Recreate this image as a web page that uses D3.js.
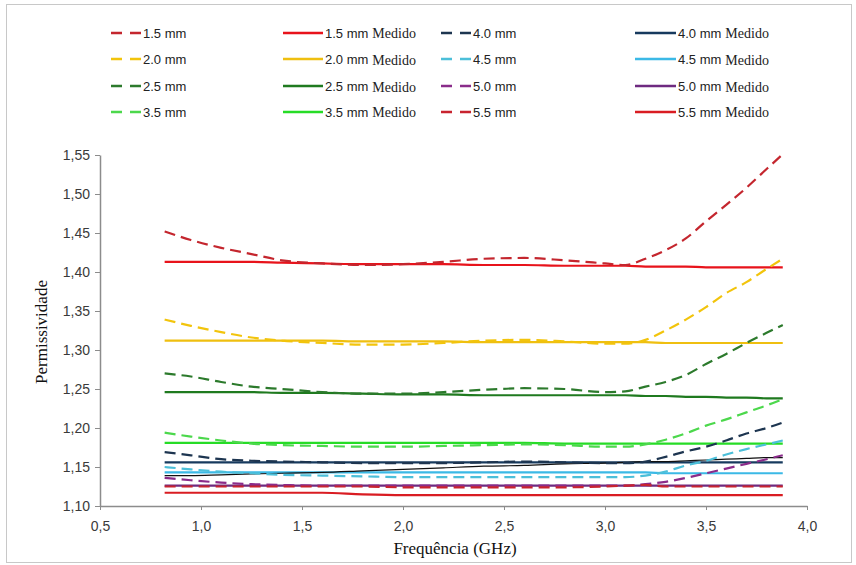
<!DOCTYPE html>
<html>
<head>
<meta charset="utf-8">
<script src="https://cdn.jsdelivr.net/npm/d3@7"></script>
<style>
  body { margin: 0; background: #fff; }
  svg { display: block; }
  .serif { font-family: "Liberation Serif", "Times New Roman", Times, serif; }
  .sans { font-family: "Liberation Sans", Arial, sans-serif; }
</style>
</head>
<body>
<svg id="chart" width="856" height="565"></svg>
<script>
// frequency grid (GHz)
const freq = [0.82, 0.95, 1.1, 1.25, 1.4, 1.6, 1.8, 2.0, 2.2, 2.4, 2.6, 2.8, 3.0, 3.1, 3.2, 3.3, 3.4, 3.5, 3.6, 3.7, 3.8, 3.88];

const sim15 = [1.452, 1.441, 1.431, 1.423, 1.415, 1.411, 1.409, 1.410, 1.413, 1.417, 1.418, 1.415, 1.411, 1.409, 1.417, 1.428, 1.443, 1.465, 1.486, 1.508, 1.532, 1.551];
const med15 = [1.413, 1.413, 1.413, 1.413, 1.412, 1.411, 1.410, 1.410, 1.410, 1.409, 1.409, 1.408, 1.408, 1.408, 1.407, 1.407, 1.407, 1.406, 1.406, 1.406, 1.406, 1.406];
const sim20 = [1.339, 1.331, 1.323, 1.316, 1.312, 1.309, 1.307, 1.307, 1.309, 1.312, 1.313, 1.311, 1.308, 1.308, 1.313, 1.325, 1.339, 1.355, 1.373, 1.387, 1.404, 1.417];
const med20 = [1.312, 1.312, 1.312, 1.312, 1.312, 1.312, 1.311, 1.311, 1.311, 1.310, 1.310, 1.310, 1.310, 1.310, 1.310, 1.309, 1.309, 1.309, 1.309, 1.309, 1.309, 1.309];
const sim25 = [1.270, 1.266, 1.259, 1.253, 1.250, 1.246, 1.244, 1.244, 1.246, 1.249, 1.251, 1.250, 1.246, 1.247, 1.253, 1.259, 1.268, 1.282, 1.295, 1.309, 1.322, 1.332];
const med25 = [1.246, 1.246, 1.246, 1.246, 1.245, 1.245, 1.244, 1.243, 1.243, 1.242, 1.242, 1.242, 1.242, 1.242, 1.241, 1.241, 1.240, 1.240, 1.239, 1.239, 1.238, 1.238];
const sim35 = [1.194, 1.189, 1.184, 1.180, 1.178, 1.177, 1.176, 1.176, 1.177, 1.178, 1.179, 1.178, 1.176, 1.176, 1.179, 1.185, 1.193, 1.203, 1.211, 1.220, 1.229, 1.237];
const med35 = [1.181, 1.181, 1.181, 1.181, 1.181, 1.181, 1.181, 1.181, 1.181, 1.181, 1.181, 1.180, 1.180, 1.180, 1.180, 1.180, 1.180, 1.180, 1.180, 1.180, 1.180, 1.180];
const sim40 = [1.169, 1.165, 1.160, 1.158, 1.157, 1.156, 1.155, 1.155, 1.155, 1.156, 1.157, 1.156, 1.155, 1.155, 1.157, 1.163, 1.170, 1.176, 1.184, 1.193, 1.200, 1.207];
const med40 = [1.156, 1.156, 1.156, 1.156, 1.156, 1.156, 1.156, 1.156, 1.156, 1.156, 1.156, 1.156, 1.156, 1.156, 1.156, 1.156, 1.156, 1.156, 1.156, 1.156, 1.156, 1.156];
// thin black line without legend entry
const extra = [1.139, 1.139, 1.140, 1.141, 1.142, 1.143, 1.145, 1.147, 1.149, 1.151, 1.152, 1.154, 1.155, 1.156, 1.157, 1.157, 1.158, 1.159, 1.160, 1.161, 1.162, 1.162];
const sim45 = [1.150, 1.147, 1.144, 1.142, 1.140, 1.139, 1.138, 1.137, 1.137, 1.137, 1.137, 1.137, 1.137, 1.137, 1.139, 1.144, 1.152, 1.158, 1.166, 1.173, 1.179, 1.184];
const med45 = [1.143, 1.143, 1.143, 1.143, 1.143, 1.143, 1.143, 1.143, 1.143, 1.143, 1.143, 1.143, 1.143, 1.143, 1.143, 1.142, 1.142, 1.142, 1.142, 1.142, 1.142, 1.142];
const sim50 = [1.136, 1.133, 1.130, 1.128, 1.127, 1.126, 1.126, 1.126, 1.126, 1.126, 1.126, 1.126, 1.126, 1.126, 1.128, 1.131, 1.136, 1.142, 1.148, 1.154, 1.160, 1.165];
const med50 = [1.126, 1.126, 1.126, 1.126, 1.126, 1.126, 1.126, 1.126, 1.126, 1.126, 1.126, 1.126, 1.126, 1.126, 1.126, 1.126, 1.126, 1.126, 1.126, 1.126, 1.126, 1.126];
const sim55 = [1.125, 1.125, 1.125, 1.125, 1.125, 1.125, 1.125, 1.124, 1.124, 1.124, 1.124, 1.124, 1.125, 1.126, 1.127, 1.125, 1.125, 1.125, 1.125, 1.125, 1.125, 1.125];
const med55 = [1.117, 1.117, 1.117, 1.117, 1.117, 1.117, 1.115, 1.114, 1.114, 1.114, 1.114, 1.114, 1.114, 1.114, 1.114, 1.114, 1.114, 1.114, 1.114, 1.114, 1.114, 1.114];

const xTicks = [0.5, 1.0, 1.5, 2.0, 2.5, 3.0, 3.5, 4.0];
const yTicks = [1.10, 1.15, 1.20, 1.25, 1.30, 1.35, 1.40, 1.45, 1.50, 1.55];

// legend columns: [label, values, color, dashed]
const series = [
    ["1.5 mm", sim15, "#c4262e", true],
    ["2.0 mm", sim20, "#f2c40c", true],
    ["2.5 mm", sim25, "#2c7a2c", true],
    ["3.5 mm", sim35, "#4cd84c", true],
    ["1.5 mm", med15, "#e8131b", false],
    ["2.0 mm", med20, "#efbf10", false],
    ["2.5 mm", med25, "#1f7a1f", false],
    ["3.5 mm", med35, "#26dc26", false],
    ["4.0 mm", sim40, "#1d3550", true],
    ["4.5 mm", sim45, "#4cbfd9", true],
    ["5.0 mm", sim50, "#8a2c8a", true],
    ["5.5 mm", sim55, "#c8232f", true],
    ["4.0 mm", med40, "#173a5e", false],
    ["4.5 mm", med45, "#3bb9e6", false],
    ["5.0 mm", med50, "#6e2a80", false],
    ["5.5 mm", med55, "#d91c22", false]
];

const svg = d3.select("#chart");

// outer frame
svg.append("rect")
    .attr("x", 6.5).attr("y", 4.5)
    .attr("width", 845).attr("height", 558)
    .attr("fill", "none")
    .attr("stroke", "#c8c8c8");

const x = d3.scaleLinear().domain([0.5, 4.0]).range([100, 807]);
const y = d3.scaleLinear().domain([1.10, 1.55]).range([506, 155]);

const fmt = d3.format(".1f");
const fmtY = d3.format(".2f");

const xAxis = svg.append("g")
    .attr("transform", "translate(0,506)")
    .call(d3.axisBottom(x).tickValues(xTicks).tickSize(4).tickSizeOuter(0)
        .tickFormat(d => fmt(d).replace(".", ",")));

const yAxis = svg.append("g")
    .attr("transform", "translate(100,0)")
    .call(d3.axisLeft(y).tickValues(yTicks).tickSize(5).tickSizeOuter(0)
        .tickFormat(d => fmtY(d).replace(".", ",")));

[xAxis, yAxis].forEach(a => {
    a.attr("font-family", null);
    a.select(".domain").attr("stroke", "#8c8c8c").attr("stroke-width", 1.5);
    a.selectAll(".tick line").attr("stroke", "#8c8c8c");
    a.selectAll(".tick text")
        .attr("fill", "#3a3a3a")
        .attr("class", "sans")
        .style("font-size", "14px");
});
xAxis.selectAll(".tick text").attr("dy", "1.25em");
yAxis.selectAll(".tick text").attr("x", -10);

const line = d3.line()
    .x((d, i) => x(freq[i]))
    .y(d => y(d))
    .curve(d3.curveMonotoneX);

const lines = svg.append("g").attr("fill", "none");

// solids first, dashed drawn over them
const solids = series.filter(s => !s[3]);
const dashed = series.filter(s => s[3]);

lines.selectAll("path.med")
    .data(solids)
    .join("path")
    .attr("class", "med")
    .attr("d", d => line(d[1]))
    .attr("stroke", d => d[2])
    .attr("stroke-width", 2.2);

lines.append("path")
    .attr("d", line(extra))
    .attr("stroke", "#111")
    .attr("stroke-width", 1.2);

lines.selectAll("path.sim")
    .data(dashed)
    .join("path")
    .attr("class", "sim")
    .attr("d", d => line(d[1]))
    .attr("stroke", d => d[2])
    .attr("stroke-width", 2.2)
    .attr("stroke-dasharray", "11,6");

// axis titles
svg.append("text")
    .attr("class", "serif")
    .attr("transform", "translate(47,332) rotate(-90)")
    .attr("text-anchor", "middle")
    .style("font-size", "17px")
    .attr("fill", "#111")
    .text("Permissividade");

svg.append("text")
    .attr("class", "serif")
    .attr("x", 455).attr("y", 554)
    .attr("text-anchor", "middle")
    .style("font-size", "17px")
    .attr("fill", "#111")
    .text("Frequência (GHz)");

// legend
const colX = [111, 283, 441, 635];
const lineW = [30, 40, 30, 41];
const rowY = [33, 59, 86, 112];

const leg = svg.append("g");
series.forEach((s, i) => {
    const c = Math.floor(i / 4), r = i % 4;
    const g = leg.append("g").attr("transform", `translate(${colX[c]},${rowY[r]})`);
    g.append("line")
        .attr("x1", 0).attr("x2", lineW[c])
        .attr("stroke", s[2])
        .attr("stroke-width", 2.5)
        .attr("stroke-dasharray", s[3] ? "11,8" : null);
    const t = g.append("text")
        .attr("class", "sans")
        .attr("x", lineW[c] + 2).attr("y", 5)
        .attr("fill", "#222")
        .style("font-size", "13px")
        .text(s[0]);
    if (!s[3]) {
        const w = t.node().getComputedTextLength();
        g.append("text")
            .attr("class", "serif")
            .attr("x", lineW[c] + 2 + w + 4).attr("y", 5 + (r === 1 || r === 2 ? 1 : 0))
            .attr("fill", "#222")
            .style("font-size", "14px")
            .text("Medido");
    }
});
</script>
</body>
</html>
